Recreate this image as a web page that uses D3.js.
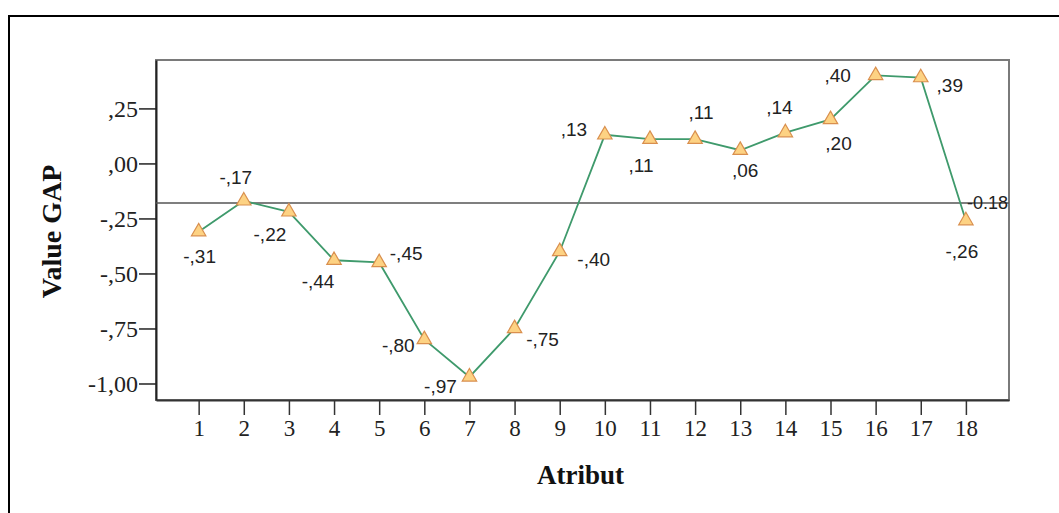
<!DOCTYPE html>
<html>
<head>
<meta charset="utf-8">
<script src="https://cdn.jsdelivr.net/npm/d3@7/dist/d3.min.js"></script>
<style>
  html, body { margin: 0; padding: 0; background: #fff; }
  svg { display: block; }
</style>
</head>
<body>
<svg id="chart" width="1059" height="513"></svg>
<script>
// ---- data ----
const categories = [1, 2, 3, 4, 5, 6, 7, 8, 9, 10, 11, 12, 13, 14, 15, 16, 17, 18];
const values = [-0.31, -0.17, -0.22, -0.44, -0.45, -0.80, -0.97, -0.75, -0.40,
                0.13, 0.11, 0.11, 0.06, 0.14, 0.20, 0.40, 0.39, -0.26];
const yTicks = [0.25, 0.00, -0.25, -0.50, -0.75, -1.00];
const yTickLabels = [",25", ",00", "-,25", "-,50", "-,75", "-1,00"];
const referenceValue = -0.18;
const referenceLabel = "-0.18";
const xTitle = "Atribut";
const yTitle = "Value GAP";

// ---- layout (label placement around each point) ----
const labelOffsets = [[1, 25], [-8, -23], [-19, 23], [-16, 21], [27, -9], [-26, 6],
  [-29, 10], [28, 11], [34, 8], [-31, -5], [-9, 26], [6, -27], [5, 20], [-6, -25],
  [8, 24], [-38, 0], [29, 8], [-4, 31]];

const svg = d3.select("#chart");
const plot = { left: 156, right: 1009, top: 60, bottom: 400 };

const x = d3.scaleLinear().domain([0.055, 18.955]).range([plot.left, plot.right]);
const y = d3.scaleLinear().domain([-1.075, 0.47]).range([plot.bottom, plot.top]);

const fmt = v => {
  const s = Math.abs(v).toFixed(2).replace(".", ",");
  const t = s.startsWith("0") ? s.slice(1) : s;
  return (v < 0 ? "-" : "") + t;
};

// outer frame
svg.append("rect")
  .attr("x", 9).attr("y", 16).attr("width", 1070).attr("height", 520)
  .attr("fill", "none").attr("stroke", "#000").attr("stroke-width", 2);

// plot frame (top & right gray)
svg.append("rect")
  .attr("x", plot.left).attr("y", plot.top)
  .attr("width", plot.right - plot.left).attr("height", plot.bottom - plot.top)
  .attr("fill", "#fff").attr("stroke", "#7a7a7a").attr("stroke-width", 2);

// y axis
const yAxis = d3.axisLeft(y).tickValues(yTicks).tickSizeInner(17).tickSizeOuter(0).tickPadding(1)
  .tickFormat((d, i) => yTickLabels[i]);
const gy = svg.append("g").attr("transform", `translate(${plot.left},0)`).call(yAxis);
gy.select(".domain").attr("stroke", "#222").attr("stroke-width", 2);
gy.selectAll(".tick line").attr("stroke", "#222").attr("stroke-width", 1.5);
gy.selectAll(".tick text").attr("font-family", "Liberation Serif, serif")
  .attr("font-size", 24).attr("fill", "#222");

// x axis
const xAxis = d3.axisBottom(x).tickValues(categories).tickSizeInner(15).tickSizeOuter(0).tickPadding(5)
  .tickFormat(d => String(d));
const gx = svg.append("g").attr("transform", `translate(0,${plot.bottom})`).call(xAxis);
gx.select(".domain").attr("stroke", "#333").attr("stroke-width", 2);
gx.selectAll(".tick line").attr("stroke", "#333").attr("stroke-width", 1.5);
gx.selectAll(".tick text").attr("font-family", "Liberation Serif, serif")
  .attr("font-size", 23).attr("fill", "#222");

// reference line
svg.append("line")
  .attr("x1", plot.left).attr("x2", plot.right)
  .attr("y1", y(referenceValue)).attr("y2", y(referenceValue))
  .attr("stroke", "#555").attr("stroke-width", 1.6);
svg.append("text")
  .attr("x", plot.right - 1).attr("y", y(referenceValue))
  .attr("text-anchor", "end").attr("dominant-baseline", "central")
  .attr("font-family", "Liberation Sans, Arial, sans-serif").attr("font-size", 18)
  .attr("fill", "#222").text(referenceLabel);

// series line
const pts = categories.map((c, i) => ({ c, v: values[i], i }));
svg.append("path")
  .datum(pts)
  .attr("d", d3.line().x(d => x(d.c)).y(d => y(d.v)))
  .attr("fill", "none").attr("stroke", "#3f9a6c").attr("stroke-width", 1.8);

// markers
svg.append("g").selectAll("path").data(pts).join("path")
  .attr("transform", d => `translate(${x(d.c)},${y(d.v)})`)
  .attr("d", d3.symbol().type(d3.symbolTriangle).size(90))
  .attr("fill", "#fdd283").attr("stroke", "#d98f4e").attr("stroke-width", 1.2);

// data labels
svg.append("g").selectAll("text").data(pts).join("text")
  .attr("x", d => x(d.c) + labelOffsets[d.i][0])
  .attr("y", d => y(d.v) + labelOffsets[d.i][1])
  .attr("text-anchor", "middle").attr("dominant-baseline", "central")
  .attr("font-family", "Liberation Sans, Arial, sans-serif").attr("font-size", 19)
  .attr("fill", "#222").text(d => fmt(d.v));

// axis titles
svg.append("text")
  .attr("x", (plot.left + plot.right) / 2 - 2).attr("y", 484)
  .attr("text-anchor", "middle")
  .attr("font-family", "Liberation Serif, serif").attr("font-weight", "bold")
  .attr("font-size", 27).attr("fill", "#111").text(xTitle);
svg.append("text")
  .attr("transform", `translate(61,${(168 + 295) / 2}) rotate(-90)`)
  .attr("text-anchor", "middle")
  .attr("font-family", "Liberation Serif, serif").attr("font-weight", "bold")
  .attr("font-size", 28).attr("fill", "#111").text(yTitle);
</script>
</body>
</html>
